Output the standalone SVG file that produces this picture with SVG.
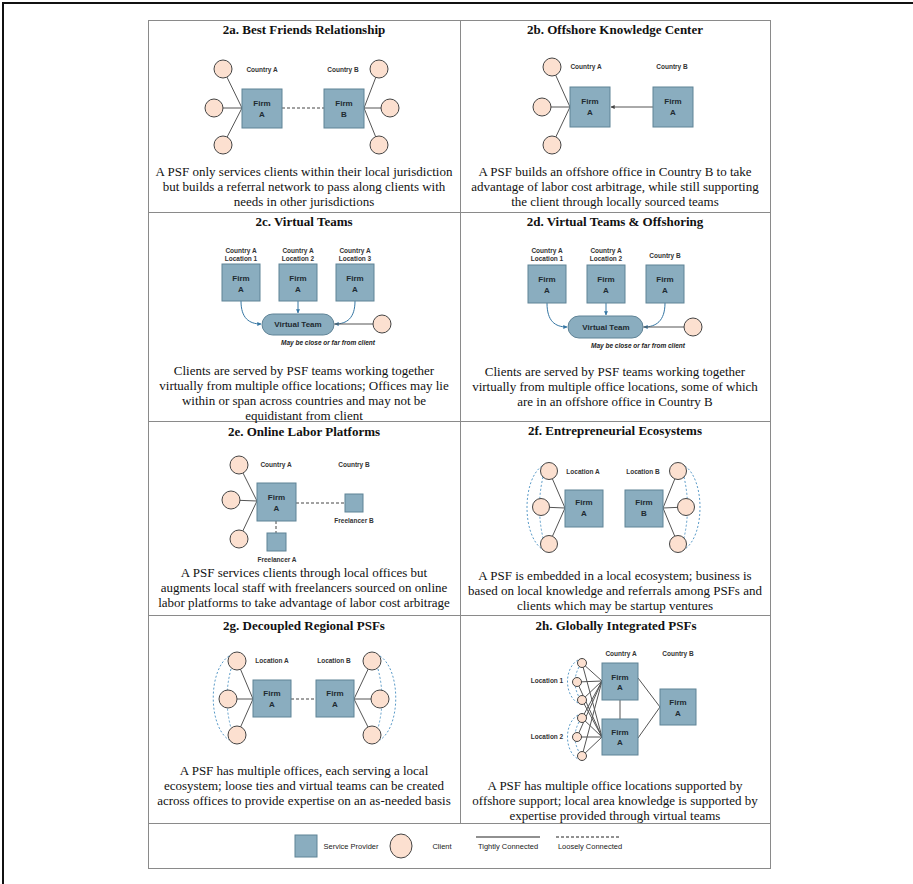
<svg xmlns="http://www.w3.org/2000/svg" width="913" height="884" viewBox="0 0 913 884">
<style>
.frame{fill:none;stroke:#8a8a8a;stroke-width:1}
.outer{fill:none;stroke:#111;stroke-width:2}
.title{font-family:"Liberation Serif",serif;font-weight:bold;font-size:13px;fill:#111;text-anchor:middle}
.desc{font-family:"Liberation Serif",serif;font-size:13px;fill:#111;text-anchor:middle}
.firm rect,rect.firm{fill:#8aadbf;stroke:#5f8396;stroke-width:1}
.ft{font-family:"Liberation Sans",Arial,sans-serif;font-weight:bold;font-size:8px;fill:#1e2a30;text-anchor:middle}
.lbl{font-family:"Liberation Sans",Arial,sans-serif;font-weight:bold;font-size:6.5px;fill:#333;text-anchor:middle}
.note{font-family:"Liberation Sans",Arial,sans-serif;font-weight:bold;font-style:italic;font-size:6.5px;fill:#222;text-anchor:middle}
.leg{font-family:"Liberation Sans",Arial,sans-serif;font-size:7.5px;fill:#222;text-anchor:middle}
.cl{fill:#fce0d0;stroke:#444;stroke-width:1}
.ln{stroke:#555;stroke-width:1;fill:none}
.dl{stroke:#444;stroke-width:1;fill:none;stroke-dasharray:3 2}
.bd{stroke:#5b9bc8;stroke-width:1;fill:none;stroke-dasharray:2 2}
.ba{stroke:#3576a3;stroke-width:1;fill:none;marker-end:url(#ab)}
</style>
<defs>
<marker id="ab" viewBox="0 0 6 6" refX="5.5" refY="3" markerWidth="4" markerHeight="4" orient="auto"><path d="M0,0 L6,3 L0,6 Z" fill="#3576a3"/></marker>
<marker id="ad" viewBox="0 0 6 6" refX="5.5" refY="3" markerWidth="4" markerHeight="4" orient="auto"><path d="M0,0 L6,3 L0,6 Z" fill="#444"/></marker>
</defs>
<rect width="913" height="884" fill="#fff"/>
<rect class="outer" x="3" y="3" width="930" height="900"/>
<g id="grid">
<rect class="frame" x="148.5" y="20.5" width="622" height="848"/>
<line class="frame" x1="460.5" y1="20.5" x2="460.5" y2="823"/>
<line class="frame" x1="148.5" y1="212.5" x2="770.5" y2="212.5"/>
<line class="frame" x1="148.5" y1="421.5" x2="770.5" y2="421.5"/>
<line class="frame" x1="148.5" y1="615.5" x2="770.5" y2="615.5"/>
<line class="frame" x1="148.5" y1="823.5" x2="770.5" y2="823.5"/>
</g>
<g id="connectors">
<!-- 2a -->
<line class="ln" x1="223" y1="69" x2="242" y2="108"/><line class="ln" x1="214" y1="108" x2="242" y2="108"/><line class="ln" x1="223" y1="145" x2="242" y2="108"/>
<line class="ln" x1="379" y1="69" x2="364" y2="108"/><line class="ln" x1="390" y1="108" x2="364" y2="108"/><line class="ln" x1="379" y1="145" x2="364" y2="108"/>
<line class="dl" x1="282" y1="108" x2="324" y2="108"/>
<!-- 2b -->
<line class="ln" x1="552" y1="67" x2="570" y2="107"/><line class="ln" x1="542" y1="107" x2="570" y2="107"/><line class="ln" x1="552" y1="145" x2="570" y2="107"/>
<line class="ln" x1="653" y1="107" x2="611" y2="107" marker-end="url(#ad)"/>
<!-- 2c -->
<path class="ba" d="M241,301 C241,318 249,324 261,324"/>
<path class="ba" d="M298,301 L298,313"/>
<path class="ba" d="M355,301 C355,318 347,324 335,324"/>
<line class="ln" x1="334" y1="324" x2="382" y2="324"/>
<!-- 2d -->
<path class="ba" d="M547,303 C547,321 555,327 567,327"/>
<path class="ba" d="M606,303 L606,315"/>
<path class="ba" d="M665,303 C665,321 656,327 644,327"/>
<line class="ln" x1="643" y1="327" x2="693" y2="327"/>
<!-- 2e -->
<line class="ln" x1="239" y1="465" x2="257" y2="501"/><line class="ln" x1="231" y1="500" x2="257" y2="501"/><line class="ln" x1="239" y1="539" x2="257" y2="501"/>
<line class="dl" x1="296" y1="503" x2="345" y2="503"/>
<line class="dl" x1="276" y1="521" x2="276" y2="533"/>
<!-- 2f -->
<line class="ln" x1="549" y1="471" x2="565" y2="508"/><line class="ln" x1="541" y1="507" x2="565" y2="508"/><line class="ln" x1="549" y1="544" x2="565" y2="508"/>
<line class="ln" x1="678" y1="471" x2="663" y2="508"/><line class="ln" x1="686" y1="507" x2="663" y2="508"/><line class="ln" x1="678" y1="544" x2="663" y2="508"/>
<path class="bd" d="M542,466 C522,480 522,535 542,549"/>
<path class="bd" d="M543,477 Q536,507 543,538"/>
<path class="bd" d="M685,466 C705,480 705,535 685,549"/>
<path class="bd" d="M684,477 Q691,507 684,538"/>
<!-- 2g -->
<line class="ln" x1="237" y1="661" x2="253" y2="699"/><line class="ln" x1="228" y1="699" x2="253" y2="699"/><line class="ln" x1="237" y1="735" x2="253" y2="699"/>
<line class="ln" x1="372" y1="661" x2="354" y2="699"/><line class="ln" x1="380" y1="699" x2="354" y2="699"/><line class="ln" x1="372" y1="735" x2="354" y2="699"/>
<line class="dl" x1="291" y1="699" x2="316" y2="699"/>
<path class="bd" d="M229,656 C208,670 208,726 229,740"/>
<path class="bd" d="M231,669 Q223,699 231,728"/>
<path class="bd" d="M380,656 C401,670 401,726 380,740"/>
<path class="bd" d="M378,669 Q386,699 378,728"/>
<!-- 2h -->
<line class="ln" x1="582" y1="663" x2="602" y2="681"/><line class="ln" x1="577" y1="682" x2="602" y2="681"/><line class="ln" x1="582" y1="700" x2="602" y2="681"/>
<line class="ln" x1="582" y1="718" x2="602" y2="681"/><line class="ln" x1="577" y1="737" x2="602" y2="681"/><line class="ln" x1="582" y1="756" x2="602" y2="681"/>
<line class="ln" x1="582" y1="663" x2="602" y2="737"/><line class="ln" x1="577" y1="682" x2="602" y2="737"/><line class="ln" x1="582" y1="700" x2="602" y2="737"/>
<line class="ln" x1="582" y1="718" x2="602" y2="737"/><line class="ln" x1="577" y1="737" x2="602" y2="737"/><line class="ln" x1="582" y1="756" x2="602" y2="737"/>
<line class="ln" x1="620" y1="700" x2="620" y2="719"/>
<line class="ln" x1="638" y1="678" x2="660" y2="707"/>
<line class="ln" x1="638" y1="738" x2="660" y2="707"/>
<path class="bd" d="M578,660 C564,668 564,695 578,703"/>
<path class="bd" d="M579,667 Q571,682 579,697"/>
<path class="bd" d="M578,715 C564,723 564,751 578,759"/>
<path class="bd" d="M579,722 Q571,737 579,752"/>
</g>

<!-- 2a -->
<g id="panel-2a">
<text class="title" x="304" y="34">2a. Best Friends Relationship</text>
<text class="lbl" x="262" y="72">Country A</text>
<text class="lbl" x="343" y="72">Country B</text>
<text class="desc" x="304" y="176">A PSF only services clients within their local jurisdiction</text>
<text class="desc" x="304" y="191">but builds a referral network to pass along clients with</text>
<text class="desc" x="304" y="206">needs in other jurisdictions</text>
</g>
<g id="a-firmA" class="firm"><rect x="242" y="89" width="40" height="39"/><text class="ft" x="262" y="106">Firm</text><text class="ft" x="262" y="117">A</text></g>
<g id="a-firmB" class="firm"><rect x="324" y="89" width="40" height="39"/><text class="ft" x="344" y="106">Firm</text><text class="ft" x="344" y="117">B</text></g>
<g id="a-c1"><circle class="cl" cx="223" cy="69" r="9"/></g>
<g id="a-c2"><circle class="cl" cx="214" cy="108" r="9"/></g>
<g id="a-c3"><circle class="cl" cx="223" cy="145" r="9"/></g>
<g id="a-c4"><circle class="cl" cx="379" cy="69" r="9"/></g>
<g id="a-c5"><circle class="cl" cx="390" cy="108" r="9"/></g>
<g id="a-c6"><circle class="cl" cx="379" cy="145" r="9"/></g>

<!-- 2b -->
<g id="panel-2b">
<text class="title" x="615" y="34">2b. Offshore Knowledge Center</text>
<text class="lbl" x="586" y="69">Country A</text>
<text class="lbl" x="672" y="69">Country B</text>
<text class="desc" x="615" y="176">A PSF builds an offshore office in Country B to take</text>
<text class="desc" x="615" y="191">advantage of labor cost arbitrage, while still supporting</text>
<text class="desc" x="615" y="206">the client through locally sourced teams</text>
</g>
<g id="b-firmA" class="firm"><rect x="570" y="87" width="40" height="40"/><text class="ft" x="590" y="104">Firm</text><text class="ft" x="590" y="115">A</text></g>
<g id="b-firmA2" class="firm"><rect x="653" y="87" width="40" height="40"/><text class="ft" x="673" y="104">Firm</text><text class="ft" x="673" y="115">A</text></g>
<g id="b-c1"><circle class="cl" cx="552" cy="67" r="9"/></g>
<g id="b-c2"><circle class="cl" cx="542" cy="107" r="9"/></g>
<g id="b-c3"><circle class="cl" cx="552" cy="145" r="9"/></g>

<!-- 2c -->
<g id="panel-2c">
<text class="title" x="304" y="226">2c. Virtual Teams</text>
<text class="lbl" x="241" y="253">Country A</text><text class="lbl" x="241" y="261">Location 1</text>
<text class="lbl" x="298" y="253">Country A</text><text class="lbl" x="298" y="261">Location 2</text>
<text class="lbl" x="355" y="253">Country A</text><text class="lbl" x="355" y="261">Location 3</text>
<text class="note" x="328" y="345">May be close or far from client</text>
<text class="desc" x="304" y="375">Clients are served by PSF teams working together</text>
<text class="desc" x="304" y="390">virtually from multiple office locations; Offices may lie</text>
<text class="desc" x="304" y="405">within or span across countries and may not be</text>
<text class="desc" x="304" y="420">equidistant from client</text>
</g>
<g id="c-firm1" class="firm"><rect x="222" y="264" width="38" height="37"/><text class="ft" x="241" y="281">Firm</text><text class="ft" x="241" y="292">A</text></g>
<g id="c-firm2" class="firm"><rect x="279" y="264" width="38" height="37"/><text class="ft" x="298" y="281">Firm</text><text class="ft" x="298" y="292">A</text></g>
<g id="c-firm3" class="firm"><rect x="336" y="264" width="38" height="37"/><text class="ft" x="355" y="281">Firm</text><text class="ft" x="355" y="292">A</text></g>
<g id="c-vteam" class="firm"><rect x="262" y="314" width="72" height="21" rx="10.5"/><text class="ft" x="298" y="327">Virtual Team</text></g>
<g id="c-client"><circle class="cl" cx="382" cy="324" r="9"/></g>

<!-- 2d -->
<g id="panel-2d">
<text class="title" x="615" y="226">2d. Virtual Teams &amp; Offshoring</text>
<text class="lbl" x="547" y="253">Country A</text><text class="lbl" x="547" y="261">Location 1</text>
<text class="lbl" x="606" y="253">Country A</text><text class="lbl" x="606" y="261">Location 2</text>
<text class="lbl" x="665" y="258">Country B</text>
<text class="note" x="638" y="348">May be close or far from client</text>
<text class="desc" x="615" y="376">Clients are served by PSF teams working together</text>
<text class="desc" x="615" y="391">virtually from multiple office locations, some of which</text>
<text class="desc" x="615" y="406">are in an offshore office in Country B</text>
</g>
<g id="d-firm1" class="firm"><rect x="528" y="265" width="38" height="38"/><text class="ft" x="547" y="282">Firm</text><text class="ft" x="547" y="293">A</text></g>
<g id="d-firm2" class="firm"><rect x="587" y="265" width="38" height="38"/><text class="ft" x="606" y="282">Firm</text><text class="ft" x="606" y="293">A</text></g>
<g id="d-firm3" class="firm"><rect x="646" y="265" width="38" height="38"/><text class="ft" x="665" y="282">Firm</text><text class="ft" x="665" y="293">A</text></g>
<g id="d-vteam" class="firm"><rect x="568" y="316" width="75" height="22" rx="11"/><text class="ft" x="606" y="330">Virtual Team</text></g>
<g id="d-client"><circle class="cl" cx="693" cy="327" r="9"/></g>

<!-- 2e -->
<g id="panel-2e">
<text class="title" x="304" y="436">2e. Online Labor Platforms</text>
<text class="lbl" x="276" y="467">Country A</text>
<text class="lbl" x="354" y="467">Country B</text>
<text class="lbl" x="354" y="523">Freelancer B</text>
<text class="lbl" x="277" y="562">Freelancer A</text>
<text class="desc" x="304" y="577">A PSF services clients through local offices but</text>
<text class="desc" x="304" y="592">augments local staff with freelancers sourced on online</text>
<text class="desc" x="304" y="607">labor platforms to take advantage of labor cost arbitrage</text>
</g>
<g id="e-firmA" class="firm"><rect x="257" y="483" width="39" height="38"/><text class="ft" x="276.5" y="500">Firm</text><text class="ft" x="276.5" y="511">A</text></g>
<g id="e-freeB" class="firm"><rect x="345" y="494" width="18" height="18"/></g>
<g id="e-freeA" class="firm"><rect x="267" y="533" width="19" height="18"/></g>
<g id="e-c1"><circle class="cl" cx="239" cy="465" r="9"/></g>
<g id="e-c2"><circle class="cl" cx="231" cy="500" r="9"/></g>
<g id="e-c3"><circle class="cl" cx="239" cy="539" r="9"/></g>

<!-- 2f -->
<g id="panel-2f">
<text class="title" x="615" y="435">2f. Entrepreneurial Ecosystems</text>
<text class="lbl" x="583" y="474">Location A</text>
<text class="lbl" x="643" y="474">Location B</text>
<text class="desc" x="615" y="580">A PSF is embedded in a local ecosystem; business is</text>
<text class="desc" x="615" y="595">based on local knowledge and referrals among PSFs and</text>
<text class="desc" x="615" y="610">clients which may be startup ventures</text>
</g>
<g id="f-firmA" class="firm"><rect x="565" y="490" width="38" height="37"/><text class="ft" x="584" y="505">Firm</text><text class="ft" x="584" y="516">A</text></g>
<g id="f-firmB" class="firm"><rect x="625" y="490" width="38" height="37"/><text class="ft" x="644" y="505">Firm</text><text class="ft" x="644" y="516">B</text></g>
<g id="f-c1"><circle class="cl" cx="549" cy="471" r="8.5"/></g>
<g id="f-c2"><circle class="cl" cx="541" cy="507" r="8.5"/></g>
<g id="f-c3"><circle class="cl" cx="549" cy="544" r="8.5"/></g>
<g id="f-c4"><circle class="cl" cx="678" cy="471" r="8.5"/></g>
<g id="f-c5"><circle class="cl" cx="686" cy="507" r="8.5"/></g>
<g id="f-c6"><circle class="cl" cx="678" cy="544" r="8.5"/></g>

<!-- 2g -->
<g id="panel-2g">
<text class="title" x="304" y="630">2g. Decoupled Regional PSFs</text>
<text class="lbl" x="272" y="663">Location A</text>
<text class="lbl" x="334" y="663">Location B</text>
<text class="desc" x="304" y="775">A PSF has multiple offices, each serving a local</text>
<text class="desc" x="304" y="790">ecosystem; loose ties and virtual teams can be created</text>
<text class="desc" x="304" y="805">across offices to provide expertise on an as-needed basis</text>
</g>
<g id="g-firmA" class="firm"><rect x="253" y="680" width="38" height="37"/><text class="ft" x="272" y="696">Firm</text><text class="ft" x="272" y="707">A</text></g>
<g id="g-firmA2" class="firm"><rect x="316" y="680" width="38" height="37"/><text class="ft" x="335" y="696">Firm</text><text class="ft" x="335" y="707">A</text></g>
<g id="g-c1"><circle class="cl" cx="237" cy="661" r="9"/></g>
<g id="g-c2"><circle class="cl" cx="228" cy="699" r="9"/></g>
<g id="g-c3"><circle class="cl" cx="237" cy="735" r="9"/></g>
<g id="g-c4"><circle class="cl" cx="372" cy="661" r="9"/></g>
<g id="g-c5"><circle class="cl" cx="380" cy="699" r="9"/></g>
<g id="g-c6"><circle class="cl" cx="372" cy="735" r="9"/></g>

<!-- 2h -->
<g id="panel-2h">
<text class="title" x="616" y="630">2h. Globally Integrated PSFs</text>
<text class="lbl" x="621" y="656">Country A</text>
<text class="lbl" x="678" y="656">Country B</text>
<text class="lbl" x="547" y="683">Location 1</text>
<text class="lbl" x="547" y="739">Location 2</text>
<text class="desc" x="615" y="790">A PSF has multiple office locations supported by</text>
<text class="desc" x="615" y="805">offshore support; local area knowledge is supported by</text>
<text class="desc" x="615" y="820">expertise provided through virtual teams</text>
</g>
<g id="h-firm1" class="firm"><rect x="602" y="663" width="36" height="37"/><text class="ft" x="620" y="680">Firm</text><text class="ft" x="620" y="690">A</text></g>
<g id="h-firm2" class="firm"><rect x="602" y="719" width="36" height="36"/><text class="ft" x="620" y="735">Firm</text><text class="ft" x="620" y="745">A</text></g>
<g id="h-firm3" class="firm"><rect x="660" y="689" width="36" height="36"/><text class="ft" x="678" y="705">Firm</text><text class="ft" x="678" y="716">A</text></g>
<g id="h-c1"><circle class="cl" cx="582" cy="663" r="4.5"/></g>
<g id="h-c2"><circle class="cl" cx="577" cy="682" r="4.5"/></g>
<g id="h-c3"><circle class="cl" cx="582" cy="700" r="4.5"/></g>
<g id="h-c4"><circle class="cl" cx="582" cy="718" r="4.5"/></g>
<g id="h-c5"><circle class="cl" cx="577" cy="737" r="4.5"/></g>
<g id="h-c6"><circle class="cl" cx="582" cy="756" r="4.5"/></g>

<!-- legend -->
<g id="legend">
<rect class="firm" x="295" y="835" width="22" height="22"/>
<text class="leg" x="351" y="849">Service Provider</text>
<ellipse class="cl" cx="401" cy="846" rx="11" ry="12"/>
<text class="leg" x="442" y="849">Client</text>
<line stroke="#222" stroke-width="1.2" x1="476" y1="837" x2="540" y2="837"/>
<text class="leg" x="508" y="849">Tightly Connected</text>
<line stroke="#222" stroke-width="1" stroke-dasharray="3 2" x1="556" y1="837" x2="620" y2="837"/>
<text class="leg" x="590" y="849">Loosely Connected</text>
</g>
</svg>
